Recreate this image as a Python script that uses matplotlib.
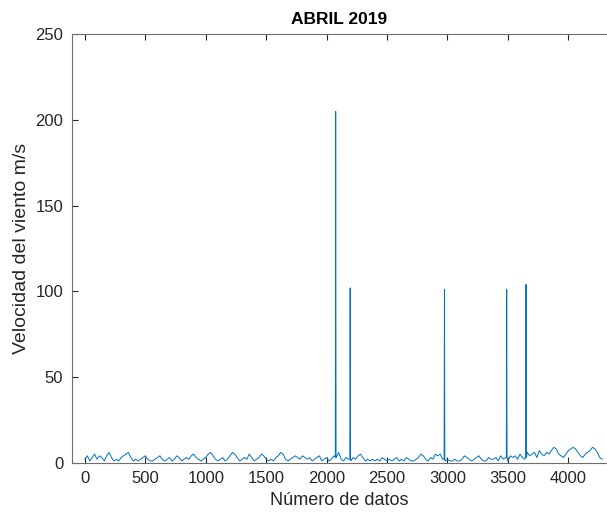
import numpy as np
import matplotlib
matplotlib.use("Agg")
import matplotlib.pyplot as plt

# Velocidad del viento, abril 2019 (valores leidos cada 20 datos)
paso = 20
velocidad_base = [
    2, 4, 1, 3, 5, 2, 4, 3, 1, 4,
    6, 3, 1, 2, 1, 3, 4, 5, 6, 3,
    1, 2, 1, 2, 3, 4, 2, 1, 1, 2,
    3, 4, 2, 1, 2, 3, 1, 2, 4, 3,
    1, 2, 3, 2, 4, 5, 3, 2, 1, 2,
    3, 5, 6, 4, 2, 1, 2, 3, 1, 2,
    4, 6, 5, 3, 1, 2, 3, 2, 5, 3,
    1, 2, 3, 5, 4, 2, 1, 2, 1, 3,
    4, 6, 5, 2, 1, 2, 3, 4, 3, 2,
    4, 3, 2, 3, 1, 2, 3, 4, 1, 2,
    3, 1, 2, 4, 3, 6, 2, 1, 3, 2,
    1, 3, 2, 4, 5, 3, 1, 2, 1, 2,
    1, 2, 1, 3, 2, 1, 2, 1, 2, 3,
    1, 2, 1, 3, 2, 1, 1, 2, 3, 5,
    4, 2, 1, 3, 2, 5, 4, 5, 2, 1,
    2, 1, 1, 2, 1, 1, 2, 4, 3, 2,
    1, 2, 3, 4, 2, 1, 1, 3, 2, 2,
    3, 1, 4, 2, 3, 1, 4, 3, 4, 2,
    5, 3, 2, 6, 4, 5, 6, 3, 7, 5,
    4, 6, 5, 7, 9, 8, 5, 4, 3, 5,
    7, 8, 9, 8, 6, 4, 3, 5, 6, 7,
    9, 8, 6, 3, 2,
]

# Picos (datos erroneos del sensor), con el dato anterior y posterior
picos_x = [2072, 2075, 2078, 2192, 2195, 2198, 2972, 2975, 2978,
           3487, 3490, 3493, 3647, 3650, 3653]
picos_y = [3, 205, 4, 2, 102, 3, 2, 101, 2,
           3, 101, 3, 4, 104, 3]

x = np.arange(len(velocidad_base)) * paso
x = np.concatenate([x, picos_x])
y = np.concatenate([velocidad_base, picos_y])
orden = np.argsort(x, kind="stable")
x, y = x[orden], y[orden]

plt.rcParams['font.family'] = ['Liberation Sans', 'DejaVu Sans']
color_ejes = '#262626'

fig = plt.figure(figsize=(6.07, 5.15), dpi=100)
ax = fig.add_axes([0.118, 0.1016, 0.882, 0.832])
ax.plot(x, y, color='#0072BD', linewidth=0.7)

ax.set_xlim(-110, 4320)
ax.set_ylim(0, 250)
ax.set_xticks(np.arange(0, 4001, 500))
ax.set_yticks(np.arange(0, 251, 50))

ax.tick_params(direction='in', top=True, right=False, labelsize=12,
               colors=color_ejes, length=4, width=0.8, pad=6)
for lado in ['left', 'bottom', 'top']:
    ax.spines[lado].set_color('#6e6e6e')
    ax.spines[lado].set_linewidth(0.8)
ax.spines['right'].set_visible(False)

ax.set_title('ABRIL 2019', fontsize=12.5, fontweight='bold', color='black', pad=7)
ax.set_xlabel('Número de datos', fontsize=13, color=color_ejes)
ax.set_ylabel('Velocidad del viento m/s', fontsize=14, color=color_ejes)

fig.savefig('out.png', dpi=100)
